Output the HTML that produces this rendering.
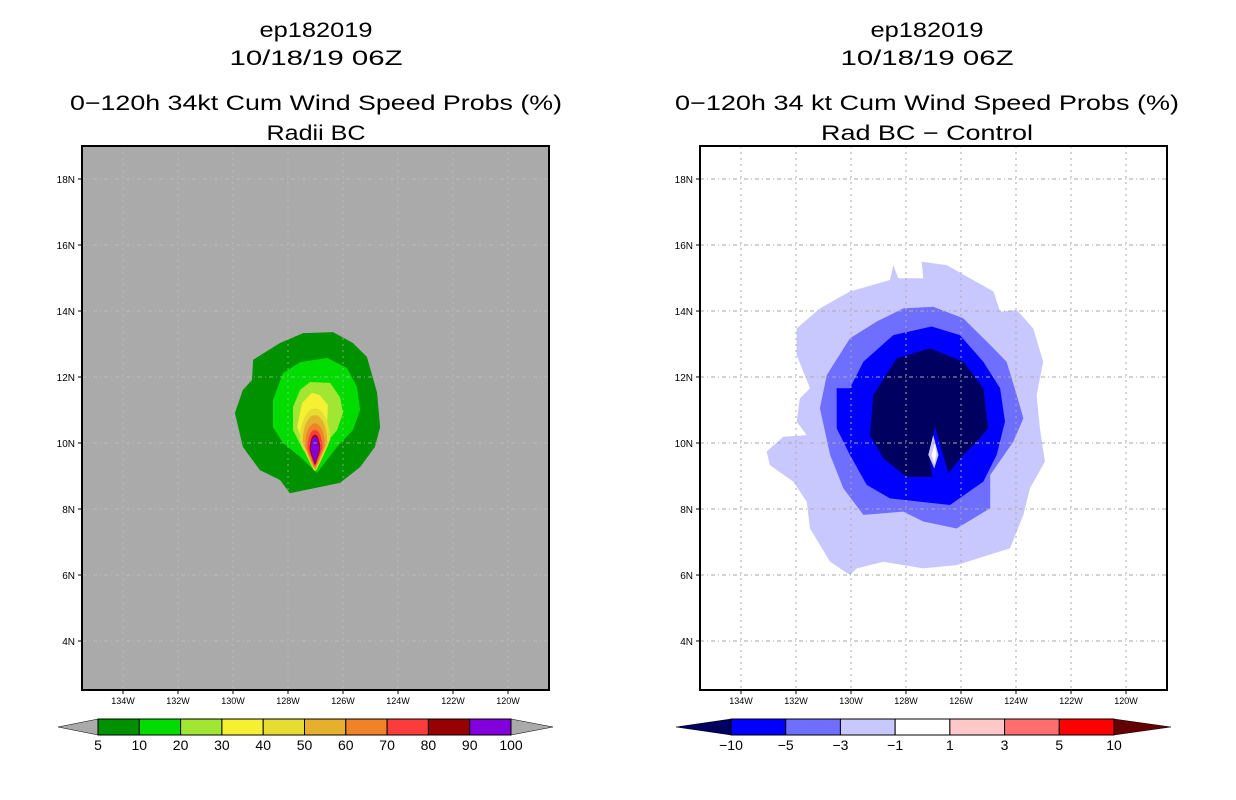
<!DOCTYPE html>
<html><head><meta charset="utf-8"><style>
html,body{margin:0;padding:0;background:#fff;}
svg{display:block;font-family:"Liberation Sans","DejaVu Sans",sans-serif;}
</style></head><body>
<svg id="fig" width="1236" height="800" viewBox="0 0 1236 800">
<rect width="1236" height="800" fill="#fff"/>
<g id="L"></g>
<g id="R"></g>
</svg>
<script>
// ---- data ----
const lonTicks=[134,132,130,128,126,124,122,120];
const latTicks=[18,16,14,12,10,8,6,4];
const leftLevels=['5','10','20','30','40','50','60','70','80','90','100'];
const leftColors=['#009100','#00dc00','#a0e632','#f5f032','#e6dc32','#e6af2d','#f08228','#fa3c3c','#960000','#8200dc'];
const rightLevels=['\u221210','\u22125','\u22123','\u22121','1','3','5','10'];
const rightColors=['#000060','#0000ff','#6e6eff','#c8c8ff','#ffffff','#ffc8c8','#ff6e6e','#ff0000','#640000'];
// left panel contours (lon W, lat N)
const lv5=[[129.27,12.52],[128.29,13.03],[127.45,13.33],[126.36,13.36],[125.64,13.03],[125.13,12.61],[124.76,11.52],[124.65,10.48],[124.84,9.88],[125.38,9.27],[126.11,8.79],[127.93,8.48],[128.29,8.88],[129.02,9.18],[129.64,9.88],[129.93,10.91],[129.64,11.61],[129.31,11.91]];
const lv10=[[127.56,12.45],[126.58,12.58],[125.85,12.27],[125.49,11.70],[125.38,11.00],[125.64,10.39],[126.22,9.88],[126.95,9.09],[127.56,9.58],[128.18,10.00],[128.55,10.48],[128.55,11.30],[128.18,12.12]];
const lv20=[[127.2,11.85],[126.47,11.82],[126.11,11.39],[126.0,10.91],[126.22,10.39],[126.73,9.88],[126.95,9.27],[127.45,9.79],[127.82,10.39],[127.82,11.09],[127.56,11.61]];
const lv30=[[127.13,11.52],[126.84,11.45],[126.55,11.15],[126.58,10.61],[126.84,10.09],[126.95,9.27],[127.45,10.0],[127.67,10.48],[127.49,11.21]];
// inner teardrops: top lat, bottom lat, half-width (deg)
const tearTop=[11.05,10.85,10.6,10.4,10.25,10.2,10.15];
const tearBot=[9.15,9.2,9.25,9.3,9.35,9.4,9.45];
const tearHW=[0.55,0.45,0.36,0.27,0.19,0.15,0.11];
const tearLon=127.02;
// right panel contours
const r1=[[131.98,13.47],[131.13,14.08],[130.04,14.59],[128.58,14.94],[128.46,15.39],[128.28,14.99],[127.37,14.99],[127.43,15.49],[126.52,15.39],[124.82,14.59],[124.58,13.98],[123.97,14.03],[123.37,13.47],[123.01,12.46],[123.25,11.45],[123.13,10.45],[122.95,9.43],[123.49,8.63],[123.73,7.82],[124.22,6.81],[126.16,6.30],[127.37,6.20],[128.82,6.40],[129.79,6.20],[130.04,6.0],[130.76,6.40],[131.49,7.41],[131.61,8.22],[132.10,8.83],[132.95,9.33],[133.07,9.74],[132.46,10.19],[131.61,10.24],[131.98,10.65],[131.86,11.35],[131.49,11.66],[131.98,12.67]];
const r3=[[131.13,11.05],[130.88,12.06],[130.04,13.17],[129.07,13.68],[128.10,14.08],[127.01,14.13],[125.92,13.78],[124.94,12.97],[124.34,12.46],[123.97,11.45],[123.73,10.75],[124.10,10.04],[124.94,9.03],[124.94,8.02],[126.16,7.41],[127.37,7.62],[128.10,7.92],[129.55,7.82],[130.28,8.63],[130.76,9.64]];
const r5=[[130.52,11.66],[130.04,11.66],[129.55,12.46],[128.46,13.27],[127.07,13.53],[126.04,13.27],[125.19,12.46],[124.58,11.66],[124.40,10.65],[124.70,9.64],[125.19,8.83],[126.40,8.12],[128.58,8.32],[129.43,8.73],[130.04,9.64],[130.52,10.45]];
const r10=[[129.19,11.45],[128.34,12.56],[127.13,12.87],[125.92,12.46],[125.19,11.66],[125.01,10.45],[125.43,10.04],[125.92,9.64],[126.46,9.08],[126.95,10.50],[127.13,9.64],[127.05,8.98],[127.98,8.98],[128.82,9.53],[129.31,10.24]];
const rSpike=[[127.01,10.24],[126.82,9.64],[126.97,9.23],[127.19,9.64]];
const rCore=[[126.95,9.99],[126.89,9.64],[126.97,9.38],[127.07,9.64]];

const NS='http://www.w3.org/2000/svg';
function mk(parent,tag,attrs){const e=document.createElementNS(NS,tag);for(const k in attrs)e.setAttribute(k,attrs[k]);parent.appendChild(e);return e;}
function panel(g,x0,bg){
  const box={x:x0,y:146,w:467,h:544};
  const xs=lon=>x0+41+(134-lon)*27.5;
  const ys=lat=>179+(18-lat)*33;
  const clipId='clip'+x0;
  const cp=mk(g,'clipPath',{id:clipId});mk(cp,'rect',{x:box.x,y:box.y,width:box.w,height:box.h});
  const bgR=mk(g,'rect',{x:box.x,y:box.y,width:box.w,height:box.h,fill:bg});
  
  
  const cg=mk(g,'g',{'clip-path':'url(#'+clipId+')'});
  
  
  return {box,xs,ys,cg};
}
function poly(g,pts,xs,ys,fill,name){
  const p=mk(g,'polygon',{points:pts.map(q=>xs(q[0]).toFixed(1)+','+ys(q[1]).toFixed(1)).join(' '),fill:fill});
  
  
}
function grid(g,P,col,op){
  lonTicks.forEach(l=>{const x=P.xs(l);
    const ln=mk(g,'line',{x1:x,y1:P.box.y,x2:x,y2:P.box.y+P.box.h,stroke:col,'stroke-width':1,'stroke-dasharray':'2,4',opacity:op});
    
    
    mk(g,'line',{x1:x,y1:P.box.y+P.box.h,x2:x,y2:P.box.y+P.box.h+4,stroke:'#000'});
    const t=mk(g,'text',{x:x,y:704,'font-size':9,'text-anchor':'middle',fill:'#000'});t.textContent=l+'W';
    
    
  });
  latTicks.forEach(l=>{const y=P.ys(l);
    const ln=mk(g,'line',{x1:P.box.x,y1:y,x2:P.box.x+P.box.w,y2:y,stroke:col,'stroke-width':1,'stroke-dasharray':'4,3,1,3',opacity:op});
    
    
    mk(g,'line',{x1:P.box.x-4,y1:y,x2:P.box.x,y2:y,stroke:'#000'});
    const t=mk(g,'text',{x:P.box.x-7,y:y+4,'font-size':10,'text-anchor':'end',fill:'#000'});t.textContent=l+'N';
    
    
  });
  const fr=mk(g,'rect',{x:P.box.x,y:P.box.y,width:P.box.w,height:P.box.h,fill:'none',stroke:'#000','stroke-width':2});
  
  
}
function titles(g,cx,l3,l3w,l4,l4w){
  const lines=[['ep182019',37,113],['10/18/19 06Z',65,173],[l3,110,l3w],[l4,140,l4w]];
  const names=['storm-id-title','date-title','main-title','subtitle'];
  lines.forEach((L,i)=>{const t=mk(g,'text',{x:cx,y:L[1],'font-size':21,'text-anchor':'middle',textLength:L[2],lengthAdjust:'spacingAndGlyphs',fill:'#000'});t.textContent=L[0];
    
    });
}
function colorbar(g,x1,x2,tipL,tipR,colors,labels,ends,name){
  const y=719,h=16;
  const cb=mk(g,'g',{});
  
  
  const nseg=labels.length-1;
  const w=(x2-x1)/nseg;
  mk(cb,'polygon',{points:`${tipL},${y+h/2} ${x1},${y} ${x1},${y+h}`,fill:ends?colors[0]:'#aaaaaa',stroke:'#000','stroke-width':0.5});
  mk(cb,'polygon',{points:`${tipR},${y+h/2} ${x2},${y} ${x2},${y+h}`,fill:ends?colors[colors.length-1]:'#aaaaaa',stroke:'#000','stroke-width':0.5});
  const segCols=ends?colors.slice(1,colors.length-1):colors;
  for(let i=0;i<nseg;i++){
    const r=mk(cb,'rect',{x:x1+i*w,y:y,width:w,height:h,fill:segCols[i],stroke:'#000','stroke-width':1});
    
    
  }
  labels.forEach((s,i)=>{const t=mk(cb,'text',{x:x1+i*w,y:750,'font-size':14,'text-anchor':'middle',fill:'#000'});t.textContent=s;
    
    });
}
// LEFT
const gL=document.getElementById('L');
const PL=panel(gL,82,'#aaaaaa');
[lv5,lv10,lv20,lv30].forEach((pts,i)=>poly(PL.cg,pts,PL.xs,PL.ys,leftColors[i],'contour-'+leftLevels[i]));
tearTop.forEach((top,i)=>{
  const bot=tearBot[i],hw=tearHW[i],pts=[];
  const mid=bot+(top-bot)*0.5;
  for(let k=0;k<=24;k++){const a=k/24*2*Math.PI;
    const s=Math.sin(a),c=Math.cos(a);
    const lat=c>=0?mid+(top-mid)*c:mid+(mid-bot)*c;
    const shrink=c<0?(1+c*0.7):1;
    pts.push([tearLon+hw*s*shrink,lat]);}
  poly(PL.cg,pts,PL.xs,PL.ys,leftColors[4+i]||leftColors[9],'contour-'+leftLevels[4+i]);
});
grid(gL,PL,'#c8c8c8',0.6);
titles(gL,316,'0\u2212120h 34kt Cum Wind Speed Probs (%)',492,'Radii BC',99);
colorbar(gL,98,511,58,553,leftColors,leftLevels,false,'left-colorbar');
// RIGHT
const gR=document.getElementById('R');
const PR=panel(gR,700,'#ffffff');
poly(PR.cg,r1,PR.xs,PR.ys,'#c8c8ff','diff-minus1');
poly(PR.cg,r3,PR.xs,PR.ys,'#6e6eff','diff-minus3');
poly(PR.cg,r5,PR.xs,PR.ys,'#0000ff','diff-minus5');
poly(PR.cg,r10,PR.xs,PR.ys,'#000060','diff-minus10');
poly(PR.cg,rSpike,PR.xs,PR.ys,'#c8c8ff','diff-spike');
poly(PR.cg,rCore,PR.xs,PR.ys,'#ffffff','diff-core');
grid(gR,PR,'#aaaaaa',1);
titles(gR,927,'0\u2212120h 34 kt Cum Wind Speed Probs (%)',504,'Rad BC \u2212 Control',212);
colorbar(gR,731,1114,676,1171,rightColors,rightLevels,true,'right-colorbar');
</script>
</body></html>
